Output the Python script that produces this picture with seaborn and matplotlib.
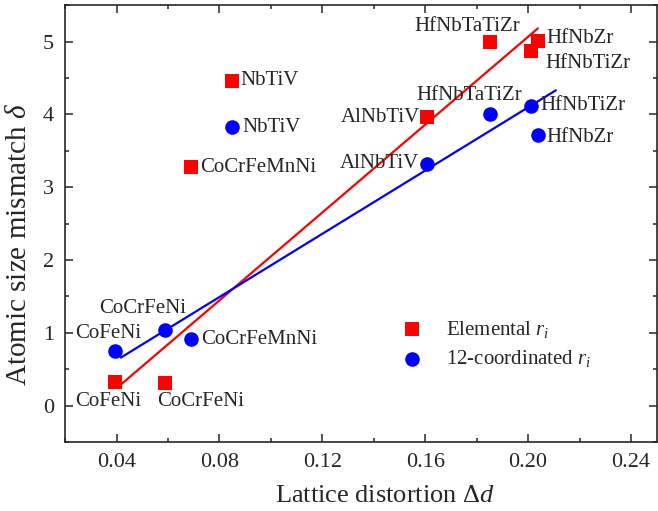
import numpy as np
import pandas as pd
import matplotlib
matplotlib.use('Agg')
import matplotlib.pyplot as plt
import seaborn as sns
from matplotlib.ticker import MultipleLocator, FormatStrFormatter

# values
alloys = ['CoFeNi', 'CoCrFeNi', 'CoCrFeMnNi', 'NbTiV', 'AlNbTiV',
          'HfNbTaTiZr', 'HfNbTiZr', 'HfNbZr']
lattice_dist = [0.0395, 0.0588, 0.069, 0.0848, 0.1606, 0.185, 0.201, 0.2038]
delta_elemental = [0.33, 0.31, 3.27, 4.46, 3.96, 5.0, 4.87, 5.01]
delta_12coord = [0.75, 1.04, 0.92, 3.82, 3.32, 4.01, 4.12, 3.71]

# linear fit lines (end points)
fit_x_elem = [0.0417, 0.2038]
fit_y_elem = [0.29, 5.18]
fit_x_12 = [0.0417, 0.2108]
fit_y_12 = [0.66, 4.33]

x_ticks = [0.04, 0.08, 0.12, 0.16, 0.20, 0.24]
y_ticks = [0, 1, 2, 3, 4, 5]

# label offsets in pixels (dx, dy, ha)
off_elem = [(-7, -20, 'center'), (-8, -18, 'left'), (9, 0, 'left'), (9, 0, 'left'),
            (-7, 0, 'right'), (-22, 15, 'center'), (15, -13, 'left'), (9, 2, 'left')]
off_12 = [(-7, 17, 'center'), (-22, 21, 'center'), (10, -1, 'left'), (11, 0, 'left'),
          (-8, 0, 'right'), (-20, 18, 'center'), (10, 0, 'left'), (9, -2, 'left')]

sns.set_style('ticks')
plt.rcParams['font.family'] = ['Liberation Serif', 'DejaVu Serif']
plt.rcParams['mathtext.fontset'] = 'custom'
plt.rcParams['mathtext.rm'] = 'Liberation Serif'
plt.rcParams['mathtext.it'] = 'Liberation Serif:italic'

df = pd.DataFrame({'alloy': alloys, 'dd': lattice_dist,
                   'elem': delta_elemental, 'coord': delta_12coord})

fig, ax = plt.subplots(figsize=(6.58, 5.11), dpi=100)
fig.subplots_adjust(left=0.099, right=0.998, top=0.990, bottom=0.135)

sns.lineplot(x=fit_x_elem, y=fit_y_elem, color='red', lw=1.6, ax=ax)
sns.lineplot(x=fit_x_12, y=fit_y_12, color='blue', lw=1.6, ax=ax)

sns.scatterplot(data=df, x='dd', y='elem', marker='s', color='red', s=95,
                linewidth=0, label='Elemental $r_i$', ax=ax, zorder=3)
sns.scatterplot(data=df, x='dd', y='coord', marker='o', color='blue', s=110,
                linewidth=0, label='12-coordinated $r_i$', ax=ax, zorder=3)

for i, name in enumerate(alloys):
    dx, dy, ha = off_elem[i]
    ax.annotate(name, (lattice_dist[i], delta_elemental[i]), xytext=(dx, dy),
                textcoords='offset pixels', ha=ha, va='center', fontsize=15)
    dx, dy, ha = off_12[i]
    ax.annotate(name, (lattice_dist[i], delta_12coord[i]), xytext=(dx, dy),
                textcoords='offset pixels', ha=ha, va='center', fontsize=15)

ax.set_xlim(0.02, 0.25)
ax.set_ylim(-0.5, 5.5)
ax.set_xticks(x_ticks)
ax.set_yticks(y_ticks)
ax.xaxis.set_major_formatter(FormatStrFormatter('%.2f'))
ax.xaxis.set_minor_locator(MultipleLocator(0.02))
ax.yaxis.set_minor_locator(MultipleLocator(0.5))
ax.tick_params(which='both', direction='in', top=True, right=True, width=1.1)
ax.tick_params(which='major', length=6, labelsize=16)
ax.tick_params(axis='x', which='major', pad=8)
ax.tick_params(axis='y', which='major', pad=8)
ax.tick_params(which='minor', length=3)
for sp in ax.spines.values():
    sp.set_linewidth(1.2)

ax.set_xlabel('Lattice distortion Δ$d$', fontsize=19)
ax.set_ylabel('Atomic size mismatch $\\delta$', fontsize=21)
ax.xaxis.set_label_coords(0.541, -0.098)
ax.yaxis.set_label_coords(-0.056, 0.453)

ax.legend(loc='upper left', bbox_to_anchor=(0.52, 0.325), frameon=False,
          fontsize=15, handletextpad=0.6, labelspacing=0.4)

fig.savefig('out.png', dpi=100)
